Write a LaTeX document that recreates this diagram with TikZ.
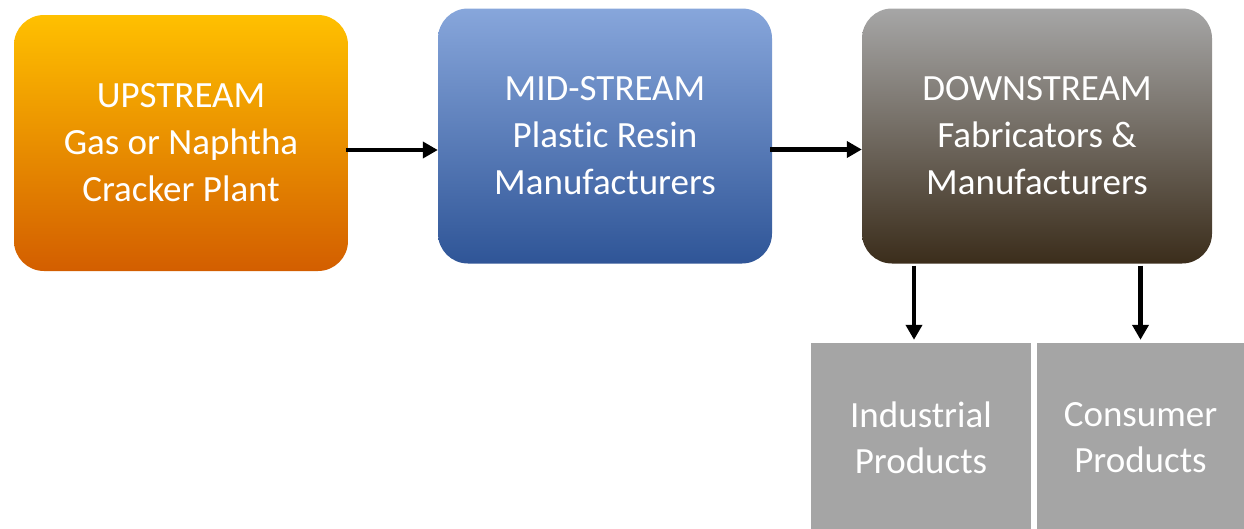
\documentclass[tikz,border=0pt]{standalone}
\usepackage{fontspec}
\setmainfont{Carlito}[Ligatures=NoCommon]
\usetikzlibrary{arrows.meta}
\definecolor{upTop}{HTML}{FFC000}
\definecolor{upBot}{HTML}{D35E00}
\definecolor{midTop}{HTML}{87A6DB}
\definecolor{midBot}{HTML}{2F5597}
\definecolor{downTop}{HTML}{A6A6A6}
\definecolor{downBot}{HTML}{3B2D1B}
\definecolor{prodGray}{HTML}{A5A5A5}
\tikzset{
	stagebox/.style={rounded corners=30pt, draw=none, text=white, align=center,
		font=\fontsize{37}{47}\selectfont, inner sep=0pt},
	prodbox/.style={fill=prodGray, draw=none, text=white, align=center,
		font=\fontsize{37}{46}\selectfont, inner sep=0pt},
	flow/.style={line width=4.5pt, -{Triangle[width=16pt,length=15pt]}}
}
\begin{document}
\begin{tikzpicture}[x=1pt,y=1pt]
	\useasboundingbox (0,0) rectangle (1244,-528);
	% three stages
	\node[stagebox, minimum width=334pt, minimum height=256pt, top color=upTop, bottom color=upBot]
		(up) at (181,-143) {UPSTREAM\\Gas or Naphtha\\Cracker Plant};
	\node[stagebox, minimum width=334pt, minimum height=255pt, top color=midTop, bottom color=midBot]
		(mid) at (605,-136) {MID-STREAM\\Plastic Resin\\Manufacturers};
	\node[stagebox, minimum width=350pt, minimum height=255pt, top color=downTop, bottom color=downBot]
		(down) at (1037,-136) {DOWNSTREAM\\Fabricators \&\\Manufacturers};
	% products
	\node[prodbox, minimum width=220pt, minimum height=190pt] (ind) at (921,-438) {Industrial\\Products};
	\node[prodbox, minimum width=207pt, minimum height=190pt] (cons) at (1140.5,-438) {Consumer\\Products};
	% arrows
	\coordinate (a1) at ([yshift=-7pt]up.east);
	\coordinate (a2) at ([yshift=-13.5pt]mid.east);
	\draw[flow] ([xshift=-2pt]a1) -- (a1 -| mid.west);
	\draw[flow] ([xshift=-2pt]a2) -- (a2 -| down.west);
	\coordinate (b1) at ([xshift=-7pt,yshift=3pt]ind.north);
	\coordinate (b2) at ([yshift=3pt]cons.north);
	\draw[flow] ([yshift=-2pt]b1 |- down.south) -- (b1);
	\draw[flow] ([yshift=-2pt]b2 |- down.south) -- (b2);
\end{tikzpicture}
\end{document}
